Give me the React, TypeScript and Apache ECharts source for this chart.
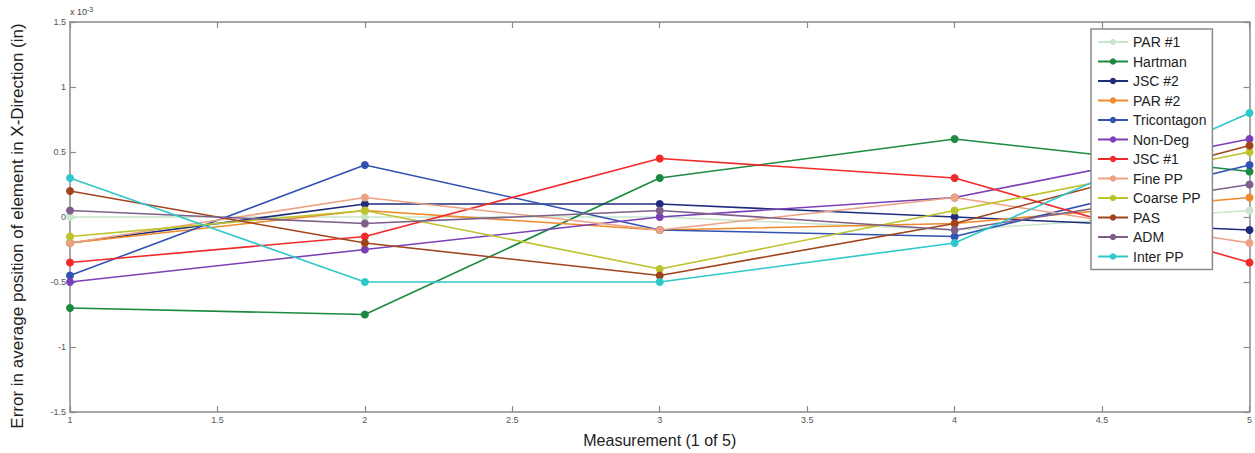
import React, { useEffect, useRef } from "react";
import * as echarts from "echarts";

const measurements = [1, 2, 3, 4, 5];

const seriesNames = [
  "PAR #1", "Hartman", "JSC #2", "PAR #2", "Tricontagon", "Non-Deg",
  "JSC #1", "Fine PP", "Coarse PP", "PAS", "ADM", "Inter PP",
];

const seriesColors = [
  "#c9e6cb", "#1b8a40", "#1f2c7c", "#f08a2c", "#3352b0", "#7c40b6",
  "#f22a2a", "#eca283", "#bcc32b", "#a1441d", "#7e5f8b", "#2fc7ca",
];

const par1 = [0, 0, 0, -0.1, 0.05];
const hartman = [-0.7, -0.75, 0.3, 0.6, 0.35];
const jsc2 = [-0.2, 0.1, 0.1, 0, -0.1];
const par2 = [-0.2, 0.05, -0.1, -0.05, 0.15];
const tricontagon = [-0.45, 0.4, -0.1, -0.15, 0.4];
const nonDeg = [-0.5, -0.25, 0, 0.15, 0.6];
const jsc1 = [-0.35, -0.15, 0.45, 0.3, -0.35];
const finePP = [-0.2, 0.15, -0.1, 0.15, -0.2];
const coarsePP = [-0.15, 0.05, -0.4, 0.05, 0.5];
const pas = [0.2, -0.2, -0.45, -0.05, 0.55];
const adm = [0.05, -0.05, 0.05, -0.1, 0.25];
const interPP = [0.3, -0.5, -0.5, -0.2, 0.8];

const allValues = [par1, hartman, jsc2, par2, tricontagon, nonDeg, jsc1, finePP, coarsePP, pas, adm, interPP];

const yTickLabels: Record<string, string> = {
  "1.5": "1.5", "1": "1", "0.5": "0.5", "0": "0", "-0.5": "-0.5", "-1": "-1", "-1.5": "-1.5",
};
const xTickLabels: Record<string, string> = {
  "1": "1", "1.5": "1.5", "2": "2", "2.5": "2.5", "3": "3", "3.5": "3.5", "4": "4", "4.5": "4.5", "5": "5",
};

export default function App() {
  const ref = useRef<HTMLDivElement>(null);
  useEffect(() => {
    if (!ref.current) return;
    const chart = echarts.init(ref.current, null, { renderer: "svg" });
    const axisLine = { show: true, onZero: false, lineStyle: { color: "#8a8a8a", width: 1.5 } };
    const tickStyle = { show: true, inside: true, length: 6, lineStyle: { color: "#8a8a8a", width: 1.2 } };
    chart.setOption({
      animation: false,
      backgroundColor: "#ffffff",
      textStyle: { fontFamily: "Liberation Sans, Arial, sans-serif" },
      grid: { left: 70, right: 3, top: 22, bottom: 41, containLabel: false },
      xAxis: [
        {
          type: "value", min: 1, max: 5, interval: 0.5, position: "bottom",
          axisLine, axisTick: tickStyle, splitLine: { show: false },
          axisLabel: {
            color: "#555", fontSize: 9, margin: 3,
            formatter: (v: number) => xTickLabels[String(v)] ?? String(v),
          },
          name: "Measurement (1 of 5)", nameLocation: "middle", nameGap: 20,
          nameTextStyle: { color: "#222", fontSize: 16 },
        },
        {
          type: "value", min: 1, max: 5, interval: 0.5, position: "top",
          axisLine, axisTick: tickStyle, axisLabel: { show: false }, splitLine: { show: false },
        },
      ],
      yAxis: [
        {
          type: "value", min: -1.5, max: 1.5, interval: 0.5, position: "left",
          axisLine, axisTick: tickStyle, splitLine: { show: false },
          axisLabel: {
            color: "#555", fontSize: 9, margin: 4,
            formatter: (v: number) => yTickLabels[String(v)] ?? String(v),
          },
        },
        {
          type: "value", min: -1.5, max: 1.5, interval: 0.5, position: "right",
          axisLine, axisTick: tickStyle, axisLabel: { show: false }, splitLine: { show: false },
        },
      ],
      legend: {
        orient: "vertical",
        left: 1091,
        top: 29,
        z: 50,
        itemWidth: 30,
        itemHeight: 8,
        itemGap: 5.5,
        padding: [6, 6, 6, 6],
        backgroundColor: "#ffffff",
        borderColor: "#8a8a8a",
        borderWidth: 1.5,
        textStyle: { fontSize: 14, color: "#222", fontFamily: "Liberation Sans, Arial, sans-serif" },
        data: seriesNames,
      },
      graphic: [
        {
          type: "text", left: 70, top: 6,
          style: {
            text: "{b|x 10}{s|-3}", fill: "#444",
            rich: { b: { fontSize: 9, fill: "#444" }, s: { fontSize: 7, fill: "#444", verticalAlign: "top", padding: [0, 0, 4, 0] } },
          },
        },
        {
          type: "text", x: 17, y: 226, rotation: Math.PI / 2,
          style: {
            text: "Error in average position of element in X-Direction (in)",
            fontSize: 17, fill: "#222", align: "center", verticalAlign: "middle",
            fontFamily: "Liberation Sans, Arial, sans-serif",
          },
        },
      ],
      series: seriesNames.map((name, i) => ({
        name,
        type: "line",
        data: measurements.map((m, j) => [m, allValues[i][j]]),
        symbol: "circle",
        symbolSize: 8,
        showSymbol: true,
        lineStyle: { width: 1.6, color: seriesColors[i] },
        itemStyle: { color: seriesColors[i] },
        emphasis: { disabled: true },
        z: 2,
      })),
    });
    return () => chart.dispose();
  }, []);
  return (
    <div
      ref={ref}
      style={{ position: "fixed", left: 0, top: 0, width: 1255, height: 453 }}
    />
  );
}
